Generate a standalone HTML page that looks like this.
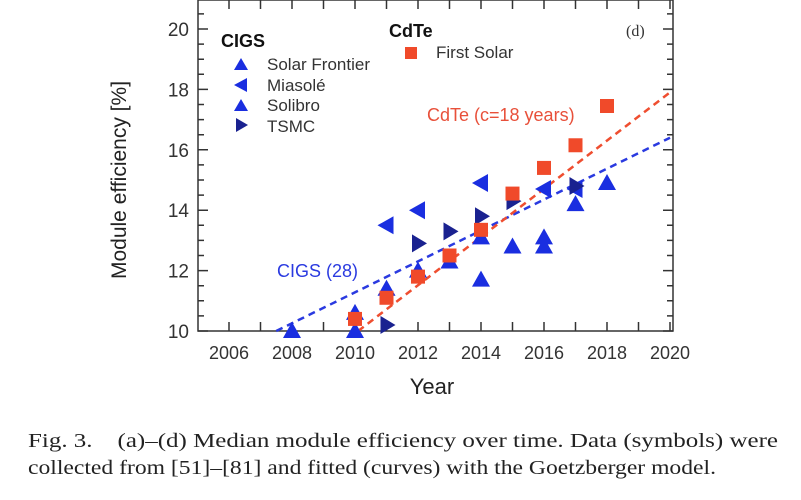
<!DOCTYPE html>
<html><head><meta charset="utf-8"><style>
body{margin:0;background:#fff;width:801px;height:495px;overflow:hidden}
svg text{font-family:"Liberation Sans",sans-serif}
</style></head><body>
<svg id="chart" width="801" height="495" xmlns="http://www.w3.org/2000/svg">
<g id="axes"></g>
<g id="lines"></g>
<g id="marks"></g>
<text transform="translate(126,180) rotate(-90)" text-anchor="middle" font-size="21" fill="#222">Module efficiency [%]</text>
<text x="432" y="394" text-anchor="middle" font-size="22" fill="#222">Year</text>
<text x="626" y="36" font-size="16" fill="#333" style="font-family:'Liberation Serif',serif">(d)</text>
<g>
<text x="221" y="47" font-size="18" font-weight="bold" fill="#111">CIGS</text>
<path d="M234 70 L241 58 L248 70Z" fill="#1a2ee0"/><text x="267" y="70" font-size="17" fill="#333">Solar Frontier</text>
<path d="M234 85 L247 78 L247 92Z" fill="#1a2ee0"/><text x="267" y="91" font-size="17" fill="#333">Miasolé</text>
<path d="M234 111 L241 99 L248 111Z" fill="#1a2ee0"/><text x="267" y="111" font-size="17" fill="#333">Solibro</text>
<path d="M236 118 L248 125 L236 132Z" fill="#1a2290"/><text x="267" y="132" font-size="17" fill="#333">TSMC</text>
</g>
<g>
<text x="389" y="37" font-size="18" font-weight="bold" fill="#111">CdTe</text>
<rect x="405" y="47" width="12" height="12" fill="#f04a2a"/><text x="436" y="58" font-size="17" fill="#333">First Solar</text>
</g>
<text x="427" y="121" font-size="18" fill="#e8503a">CdTe (c=18 years)</text>
<text x="277" y="277" font-size="18" fill="#2a3ae0">CIGS (28)</text>
<text x="28" y="447" font-size="20" textLength="750" lengthAdjust="spacingAndGlyphs" fill="#222" style="font-family:'Liberation Serif',serif">Fig. 3.&#160;&#160;&#160; (a)–(d) Median module efficiency over time. Data (symbols) were</text>
<text x="28" y="474" font-size="20" textLength="688" lengthAdjust="spacingAndGlyphs" fill="#222" style="font-family:'Liberation Serif',serif">collected from [51]–[81] and fitted (curves) with the Goetzberger model.</text>
</svg>
<script>
const sfYears=[2008,2010,2010,2011,2012,2013,2014,2014,2015,2016,2016,2017,2018];
const sfVals=[10.0,10.6,10.0,11.4,12.0,12.3,13.1,11.7,12.8,13.1,12.8,14.2,14.9];
const miYears=[2011,2012,2014,2016,2017];
const miVals=[13.5,14.0,14.9,14.7,14.7];
const tsYears=[2011,2012,2013,2014,2015,2017];
const tsVals=[10.2,12.9,13.3,13.8,14.3,14.8];
const fsYears=[2010,2011,2012,2013,2014,2015,2016,2017,2018];
const fsVals=[10.4,11.1,11.8,12.5,13.35,14.55,15.4,16.15,17.45];
const cigsFit=[[2007.5,10],[2020,16.4]];
const cdteFit=[[2010.1,10],[2020,17.9]];
const xTicks=[2006,2008,2010,2012,2014,2016,2018,2020];
const yTicks=[10,12,14,16,18,20,22];
const NS="http://www.w3.org/2000/svg";
const X0=198,X1=673,Y0=0,Y1=331;
const xs=v=>355+(v-2010)*31.5;
const ys=v=>331-(v-10)*30.2;
function mk(tag,at,parent){const e=document.createElementNS(NS,tag);for(const k in at)e.setAttribute(k,at[k]);document.getElementById(parent).appendChild(e);return e;}
const fr=mk('rect',{x:X0,y:Y0,width:X1-X0,height:Y1-Y0,fill:'none',stroke:'#333','stroke-width':1.5},'axes');


for(let yr=2005;yr<=2020;yr++){const x=xs(yr);if(x<X0||x>X1)continue;
 const t=mk('path',{d:`M${x} ${Y1}V${Y1-9}M${x} ${Y0}V${Y0+9}`,stroke:'#333','stroke-width':1.5},'axes');
 
 }
xTicks.forEach(v=>{const t=mk('text',{x:xs(v),y:359,'text-anchor':'middle','font-size':18,fill:'#333'},'axes');t.textContent=v;
 
 });
for(let v=10;v<=21;v+=0.5){const y=ys(v);if(y<Y0)continue;const L=(v%2===0)?10:6;
 const t=mk('path',{d:`M${X0} ${y}H${X0+L}M${X1} ${y}H${X1-L}`,stroke:'#333','stroke-width':1.5},'axes');
 
 }
yTicks.forEach(v=>{const t=mk('text',{x:189,y:ys(v)+7,'text-anchor':'end','font-size':19,fill:'#333'},'axes');t.textContent=v;
 
 });
function line(f,c,name){const l=mk('line',{x1:xs(f[0][0]),y1:ys(f[0][1]),x2:xs(f[1][0]),y2:ys(f[1][1]),stroke:c,'stroke-width':2.5,'stroke-dasharray':'7 5'},'lines');
 
 }
line(cigsFit,'#2a3ae0','cigs-fit-line');line(cdteFit,'#ef4e30','cdte-fit-line');
function pts(Y,V,shape,c,name){Y.forEach((yr,i)=>{const x=xs(yr),y=ys(V[i]);let d;
 if(shape==='up')d=`M${x-9} ${y+7}L${x} ${y-9}L${x+9} ${y+7}Z`;
 else if(shape==='left')d=`M${x-9} ${y}L${x+7} ${y-9}L${x+7} ${y+9}Z`;
 else if(shape==='right')d=`M${x-6} ${y-9}L${x+9} ${y}L${x-6} ${y+9}Z`;
 else d=`M${x-7} ${y-7}h14v14h-14Z`;
 const p=mk('path',{d,fill:c},'marks');
 
 });}
pts(sfYears,sfVals,'up','#1a2ee0','solar-frontier-point');
pts(miYears,miVals,'left','#1a2ee0','miasole-point');
pts(tsYears,tsVals,'right','#1a2290','tsmc-point');
pts(fsYears,fsVals,'sq','#f04a2a','first-solar-point');
</script>
</body></html>
